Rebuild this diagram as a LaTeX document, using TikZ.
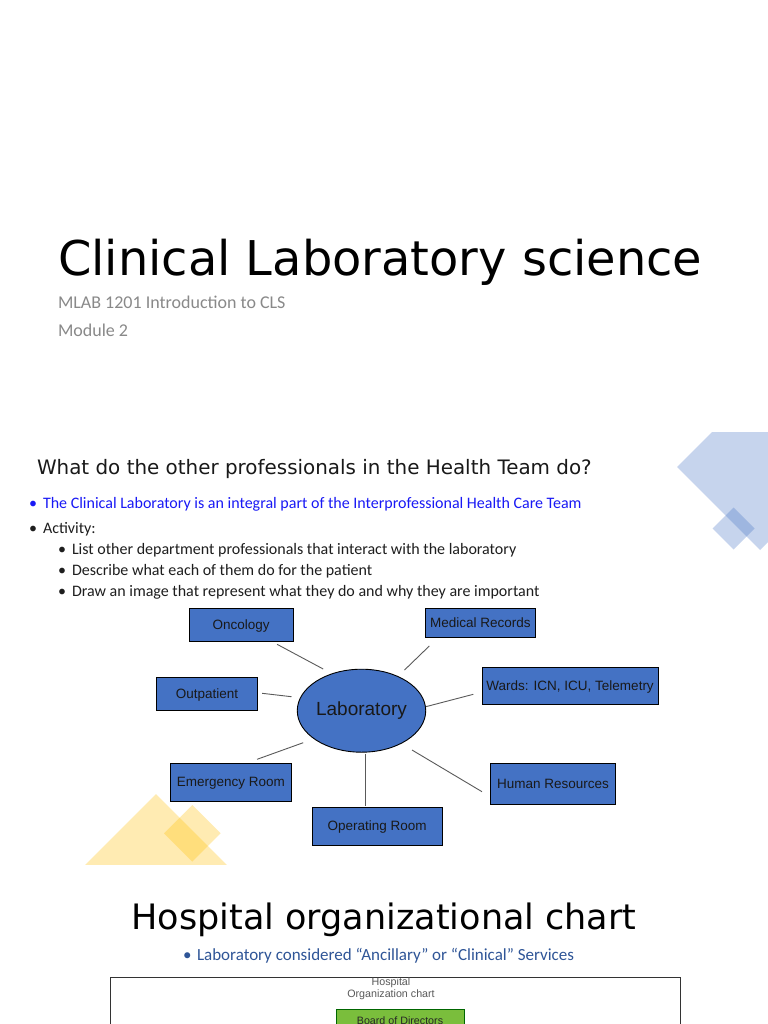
\documentclass[tikz,border=0pt]{standalone}
\usepackage{fontspec}
\setmainfont{Liberation Sans}
\newfontfamily\dejavu{DejaVu Sans}
\newfontfamily\carlito{Carlito}
\newfontfamily\arial{Liberation Sans}
\usetikzlibrary{shapes.geometric}
\definecolor{boxblue}{RGB}{68,114,196}
\definecolor{decoblue}{RGB}{68,114,196}
\definecolor{decoyellow}{RGB}{255,192,0}
\definecolor{subgray}{RGB}{137,137,137}
\definecolor{bodytext}{RGB}{30,30,30}
\definecolor{linkblue}{RGB}{25,25,245}
\definecolor{darkblue}{RGB}{47,85,151}
\definecolor{linegray}{RGB}{90,90,90}
\definecolor{boardgreen}{RGB}{122,190,60}
\tikzset{
  txt/.style={anchor=base west, inner sep=0pt, outer sep=0pt},
  dept/.style={draw=black, line width=0.9bp, fill=boxblue, inner sep=0pt, text=black!90,
    text height=1.1em, text depth=0.2em,
    font=\arial\fontsize{13.5bp}{15bp}\selectfont},
  labnode/.style={ellipse, draw=black, line width=0.9bp, fill=boxblue, inner sep=0pt, text=black!90,
    text height=1.1em, text depth=0.2em,
    font=\arial\fontsize{19bp}{22bp}\selectfont},
  link/.style={draw=linegray, line width=0.9bp},
  bodyfont/.style={font=\carlito\fontsize{16bp}{19bp}\selectfont},
}
\begin{document}
\begin{tikzpicture}[x=1bp,y=-1bp]
\clip (0,0) rectangle (768,1024);
\fill[white] (0,0) rectangle (768,1024);
% decorations slide 2
\begin{scope}
  \clip (0,432) rectangle (768,864);
  \fill[decoblue, opacity=0.3] (677,467) -- (760,384) -- (843,467) -- (760,550) -- cycle;
  \fill[decoblue, opacity=0.3] (712.5,528.5) -- (733.5,507.5) -- (754.5,528.5) -- (733.5,549.5) -- cycle;
  \fill[decoyellow, opacity=0.3] (85,865) -- (156,794) -- (227,865) -- (156,936) -- cycle;
  \fill[decoyellow, opacity=0.3] (164,833.3) -- (192.3,805) -- (220.6,833.3) -- (192.3,861.6) -- cycle;
\end{scope}
% slide 1
\node[txt, font=\dejavu\fontsize{47.9bp}{56bp}\selectfont, text=black] (title) at (58,275) {Clinical Laboratory science};
\node[txt, font=\carlito\fontsize{18bp}{22bp}\selectfont, text=subgray] (sub1) at (58,308) {MLAB 1201 Introduction to CLS};
\node[txt, font=\carlito\fontsize{18bp}{22bp}\selectfont, text=subgray] (sub2) at (58,336) {Module 2};
% slide 2
\node[txt, font=\dejavu\fontsize{19.9bp}{24bp}\selectfont, text=black!90] (head) at (37,474) {What do the other professionals in the Health Team do?};
\node[txt, bodyfont, text=linkblue] (b1m) at (29,508) {•};
\node[txt, bodyfont, text=linkblue] (b1) at (43,508) {The Clinical Laboratory is an integral part of the Interprofessional Health Care Team};
\node[txt, bodyfont, text=bodytext] (b2m) at (29,533) {•};
\node[txt, bodyfont, text=bodytext] (b2) at (43,533) {Activity:};
\node[txt, bodyfont, text=bodytext] (b3m) at (58,554.5) {•};
\node[txt, bodyfont, text=bodytext] (b3) at (72,554.5) {List other department professionals that interact with the laboratory};
\node[txt, bodyfont, text=bodytext] (b4m) at (58,575.5) {•};
\node[txt, bodyfont, text=bodytext] (b4) at (72,575.5) {Describe what each of them do for the patient};
\node[txt, bodyfont, text=bodytext] (b5m) at (58,596.5) {•};
\node[txt, bodyfont, text=bodytext] (b5) at (72,596.5) {Draw an image that represent what they do and why they are important};
% diagram
\node[labnode, minimum width=117bp, minimum height=83bp] (lab) at (361.5,710.7) {Laboratory};
\node[dept, minimum width=104bp, minimum height=33.4bp] (onc) at (241.2,625) {Oncology};
\node[dept, minimum width=109.2bp, minimum height=29.4bp] (med) at (480.4,623) {Medical Records};
\node[dept, minimum width=100.2bp, minimum height=33bp] (out) at (207,693.8) {Outpatient};
\node[dept, minimum width=176.2bp, minimum height=37bp] (wards) at (570.1,685.8) {Wards: ICN, ICU, Telemetry};
\node[dept, minimum width=121.2bp, minimum height=38bp] (er) at (230.9,782.3) {Emergency Room};
\node[dept, minimum width=125.7bp, minimum height=41bp] (hr) at (553,783.8) {Human Resources};
\node[dept, minimum width=129.8bp, minimum height=37.3bp] (or) at (377.1,826.3) {Operating Room};
\coordinate (onc-e) at (277.1,644.3); \coordinate (onc-l) at (323.2,669);
\coordinate (med-e) at (429.3,646);  \coordinate (med-l) at (404.5,670);
\coordinate (out-e) at (262.2,693.3); \coordinate (out-l) at (291.5,696.7);
\coordinate (wards-e) at (473.3,694.3); \coordinate (wards-l) at (425.8,706.7);
\coordinate (er-e) at (257.1,759.3); \coordinate (er-l) at (303.2,742.7);
\coordinate (or-e) at (365.6,805.7); \coordinate (or-l) at (365.6,754);
\coordinate (hr-e) at (482,791.7); \coordinate (hr-l) at (412,750);
\draw[link] (onc-e) -- (onc-l);
\draw[link] (med-e) -- (med-l);
\draw[link] (out-e) -- (out-l);
\draw[link] (wards-e) -- (wards-l);
\draw[link] (er-e) -- (er-l);
\draw[link] (or-e) -- (or-l);
\draw[link] (hr-e) -- (hr-l);
% slide 3
\node[anchor=base, inner sep=0pt, font=\dejavu\fontsize{35bp}{42bp}\selectfont, text=black] (title3) at (384,929) {Hospital organizational chart};
\node[txt, font=\carlito\fontsize{17bp}{20bp}\selectfont, text=darkblue] (c1m) at (183,960) {•};
\node[txt, font=\carlito\fontsize{17bp}{20bp}\selectfont, text=darkblue] (c1) at (197,960) {Laboratory considered “Ancillary” or “Clinical” Services};
\draw[draw=black!80, line width=0.9bp] (110.5,1040) -- (110.5,977.5) -- (680,977.5) -- (680,1040);
\node[anchor=center, inner sep=0pt, align=center, text=black!65, font=\arial\fontsize{10.7bp}{11.5bp}\selectfont] (hoc) at (391,988.5) {Hospital\\Organization chart};
\node[anchor=north west, draw=green!40!black, fill=boardgreen, line width=0.6bp, minimum width=128bp, minimum height=30bp, inner sep=0pt] (board) at (336,1009.3) {};
\node[anchor=base, inner sep=0pt, text=black!85, font=\arial\fontsize{10.7bp}{12bp}\selectfont] (boardtxt) at (400,1024) {Board of Directors};
\end{tikzpicture}
\end{document}
